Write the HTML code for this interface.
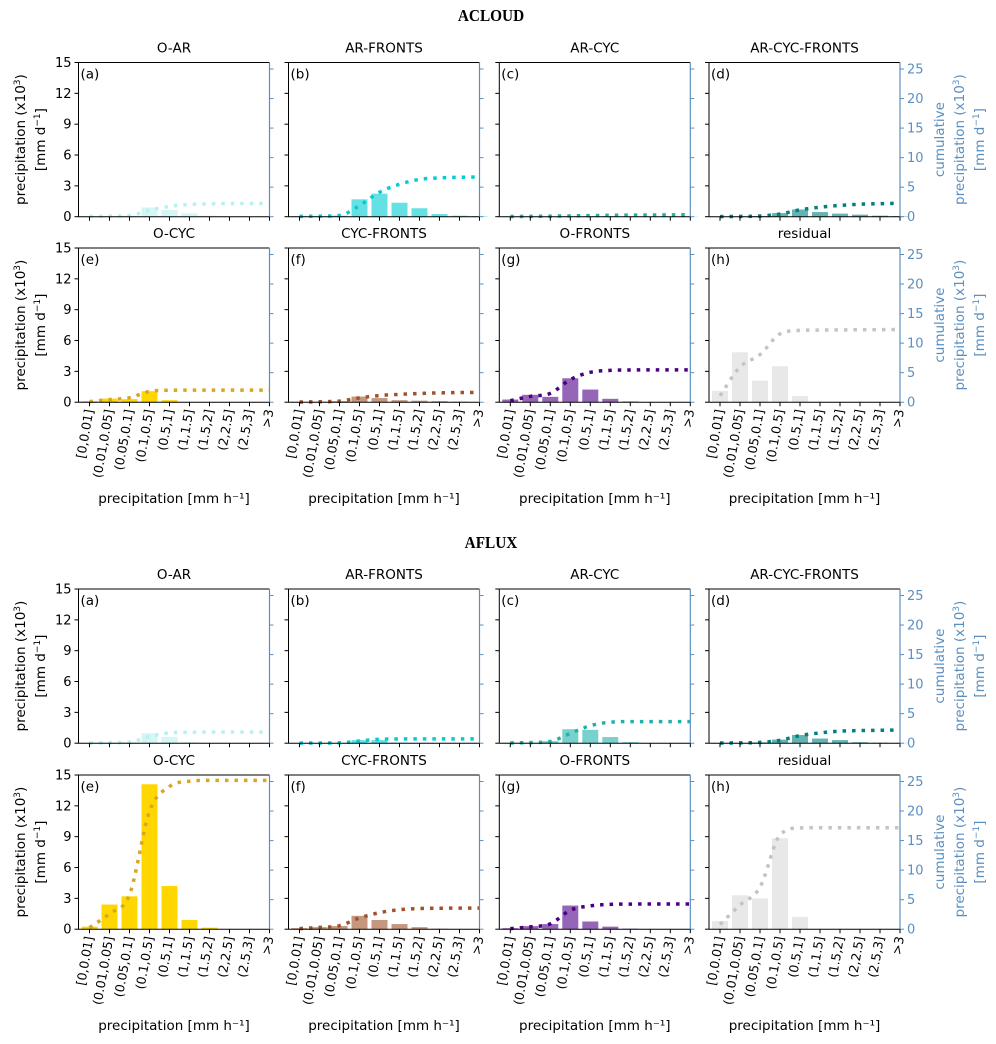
<!DOCTYPE html>
<html><head><meta charset="utf-8"><style>
body{margin:0;background:#fff;}
svg{display:block;font-family:"DejaVu Sans","Liberation Sans",sans-serif;}
</style></head><body>
<svg id="fig" width="996" height="1044" viewBox="0 0 996 1044" xmlns="http://www.w3.org/2000/svg">
<text x="491" y="21" text-anchor="middle" font-family="Liberation Serif, serif" font-weight="bold" font-size="17" transform="translate(491 0) scale(0.9 1) translate(-491 0)">ACLOUD</text>
<text x="491" y="548" text-anchor="middle" font-family="Liberation Serif, serif" font-weight="bold" font-size="17" transform="translate(491 0) scale(0.9 1) translate(-491 0)">AFLUX</text>
</svg>
<script>
const categories=["[0,0.01]","(0.01,0.05]","(0.05,0.1]","(0.1,0.5]","(0.5,1]","(1,1.5]","(1.5,2]","(2,2.5]","(2.5,3]",">3"];
const panelTitles=["O-AR","AR-FRONTS","AR-CYC","AR-CYC-FRONTS","O-CYC","CYC-FRONTS","O-FRONTS","residual"];
const panelLetters=["(a)","(b)","(c)","(d)","(e)","(f)","(g)","(h)"];
const leftTicks=[0,3,6,9,12,15];
const rightTicks=[0,5,10,15,20,25];
const acloudValues=[
[0.05,0.05,0.1,0.9,0.65,0.33,0.1,0.05,0,0],
[0.05,0.05,0.1,1.69,2.24,1.36,0.82,0.26,0.1,0.05],
[0.03,0.03,0.03,0.05,0.05,0.05,0.03,0.02,0.02,0.02],
[0.02,0.03,0.06,0.35,0.7,0.45,0.3,0.2,0.1,0.05],
[0.1,0.35,0.3,1.07,0.2,0.02,0,0,0,0],
[0.03,0.05,0.1,0.55,0.4,0.2,0.15,0.1,0.05,0.02],
[0.26,0.72,0.52,2.33,1.23,0.33,0.07,0.02,0,0],
[1.1,4.86,2.1,3.5,0.6,0.05,0.03,0.02,0.02,0.02]
];
const afluxValues=[
[0.03,0.05,0.1,0.97,0.6,0.1,0.02,0,0,0],
[0.02,0.02,0.03,0.3,0.3,0.05,0.01,0,0,0],
[0.05,0.05,0.2,1.36,1.3,0.6,0.1,0,0,0],
[0.03,0.03,0.08,0.35,0.8,0.45,0.3,0.1,0.05,0.03],
[0.25,2.4,3.2,14.1,4.2,0.9,0.15,0,0,0],
[0.1,0.2,0.3,1.3,0.9,0.5,0.2,0.05,0.02,0],
[0.1,0.3,0.5,2.3,0.75,0.25,0.05,0.02,0,0],
[0.8,3.3,3.0,8.85,1.2,0.02,0.01,0,0,0]
];
const barColors=["#d4f6f6","#66e1e3","#79d1cd","#66b3b3","#ffd700","#c6977f","#9566b8","#e8e8e8"];
const lineColors=["#b9f0f0","#00ced1","#20b2aa","#008080","#daa520","#a0522d","#4b0082","#c4c4c4"];

const NS="http://www.w3.org/2000/svg";
const svg=document.getElementById('fig');
function mk(tag,attrs,parent){const e=document.createElementNS(NS,tag);for(const k in attrs)e.setAttribute(k,attrs[k]);(parent||svg).appendChild(e);return e;}
const colL=[78.5,288.5,499.3,709], W=191, H=154.2;
const rowTop=[62.5,248,589,775];
const LMAX=15, RMAX=26.1;
const axisBlue="#5b8fc0";

function drawPanel(rowIdx,p,vals){
  const left=colL[p%4], top=rowTop[rowIdx], bottom=top+H, right=left+W;
  const isBottom=(p>=4), sub=Math.floor(rowIdx/2);
  const g=mk('g',{});
  
  
  const xs=i=>left+(i+0.55)/9.55*W;
  const yl=v=>bottom-v/LMAX*H;
  const yr=v=>bottom-v/RMAX*H;
  vals.forEach((v,i)=>{
    const b=mk('rect',{x:xs(i)-8,y:yl(v),width:16,height:Math.max(0,bottom-yl(v)),fill:barColors[p]},g);
    
    
  });
  const cum=[];let s=0;vals.forEach(v=>{s+=v;cum.push(s);});
  const n=cum.length, d=[], m=[];
  for(let i=0;i<n-1;i++)d.push(cum[i+1]-cum[i]);
  for(let i=0;i<n;i++){
    if(i==0)m.push(d[0]);else if(i==n-1)m.push(d[n-2]);
    else m.push(d[i-1]*d[i]<=0?0:(d[i-1]+d[i])/2);
  }
  for(let i=0;i<n-1;i++){if(d[i]==0){m[i]=0;m[i+1]=0;}else{const a=m[i]/d[i],b=m[i+1]/d[i],h=a*a+b*b;if(h>9){const t=3/Math.sqrt(h);m[i]=t*a*d[i];m[i+1]=t*b*d[i];}}}
  let path='M'+xs(0)+' '+yr(cum[0]);
  for(let i=0;i<n-1;i++){
    path+=' C'+(xs(i)+(xs(i+1)-xs(i))/3)+' '+yr(cum[i]+m[i]/3)+' '+(xs(i+1)-(xs(i+1)-xs(i))/3)+' '+yr(cum[i+1]-m[i+1]/3)+' '+xs(i+1)+' '+yr(cum[i+1]);
  }
  const ln=mk('path',{d:path,fill:'none',stroke:lineColors[p],'stroke-width':3.5,'stroke-dasharray':'3.5 6'},g);
  
  
  mk('line',{x1:left,y1:top,x2:right,y2:top,stroke:'#000','stroke-width':1},g);
  mk('line',{x1:left,y1:top,x2:left,y2:bottom,stroke:'#000','stroke-width':1},g);
  mk('line',{x1:left,y1:bottom,x2:right,y2:bottom,stroke:'#000','stroke-width':1},g);
  mk('line',{x1:right,y1:top,x2:right,y2:bottom,stroke:axisBlue,'stroke-width':1.2},g);
  leftTicks.forEach(t=>{
    mk('line',{x1:left-4,y1:yl(t),x2:left,y2:yl(t),stroke:'#000'},g);
    if(p%4==0){const tx=mk('text',{x:left-7,y:yl(t)+4.5,'text-anchor':'end','font-size':13},g);tx.textContent=t;
      }
  });
  rightTicks.forEach(t=>{
    mk('line',{x1:right,y1:yr(t),x2:right+4,y2:yr(t),stroke:axisBlue},g);
    if(p%4==3){const tx=mk('text',{x:right+7,y:yr(t)+4.5,'font-size':13,fill:axisBlue},g);tx.textContent=t;
      }
  });
  categories.forEach((c,i)=>{
    mk('line',{x1:xs(i),y1:bottom,x2:xs(i),y2:bottom+4,stroke:'#000'},g);
    if(isBottom){
      const tx=mk('text',{x:0,y:0,'text-anchor':'end','font-size':12.5,transform:'translate('+(xs(i)+4)+' '+(bottom+8)+') rotate(-80)'},g);
      tx.textContent=c;
      
    }
  });
  const ti=mk('text',{x:left+W/2,y:top-10,'text-anchor':'middle','font-size':13.5},g);
  ti.textContent=panelTitles[p];
  
  const lt=mk('text',{x:left+2,y:top+16,'font-size':13.5},g);
  lt.textContent=panelLetters[p];
  
  if(isBottom){
    const xl=mk('text',{x:left+W/2,y:bottom+101,'text-anchor':'middle','font-size':13.5},g);
    xl.textContent='precipitation [mm h\u207B\u00B9]';
    
  }
  if(p%4==0){
    const cy=top+H/2;
    const a=mk('text',{x:0,y:0,'text-anchor':'middle','font-size':13.5,transform:'translate(25 '+cy+') rotate(-90)'},g);
    a.innerHTML='precipitation (x10<tspan dy="-5" font-size="9">3</tspan><tspan dy="5">)</tspan>';
    
    const b=mk('text',{x:0,y:0,'text-anchor':'middle','font-size':13.5,transform:'translate(45 '+cy+') rotate(-90)'},g);
    b.innerHTML='[mm d<tspan dy="-5" font-size="9">\u22121</tspan><tspan dy="5">]</tspan>';
    
  }
  if(p%4==3){
    const cy=top+H/2;
    [['cumulative',944,'right-axis-title'],['precipitation (x10<tspan dy="-5" font-size="9">3</tspan><tspan dy="5">)</tspan>',964,'right-axis-title-2'],['[mm d<tspan dy="-5" font-size="9">\u22121</tspan><tspan dy="5">]</tspan>',984,'right-axis-unit']].forEach(q=>{
      const t=mk('text',{x:0,y:0,'text-anchor':'middle','font-size':13.5,fill:axisBlue,transform:'translate('+q[1]+' '+cy+') rotate(-90)'},g);
      t.innerHTML=q[0];
      
    });
  }
}
for(let p=0;p<8;p++){
  drawPanel(p<4?0:1,p,acloudValues[p]);
  drawPanel(p<4?2:3,p,afluxValues[p]);
}
</script>
</body></html>
